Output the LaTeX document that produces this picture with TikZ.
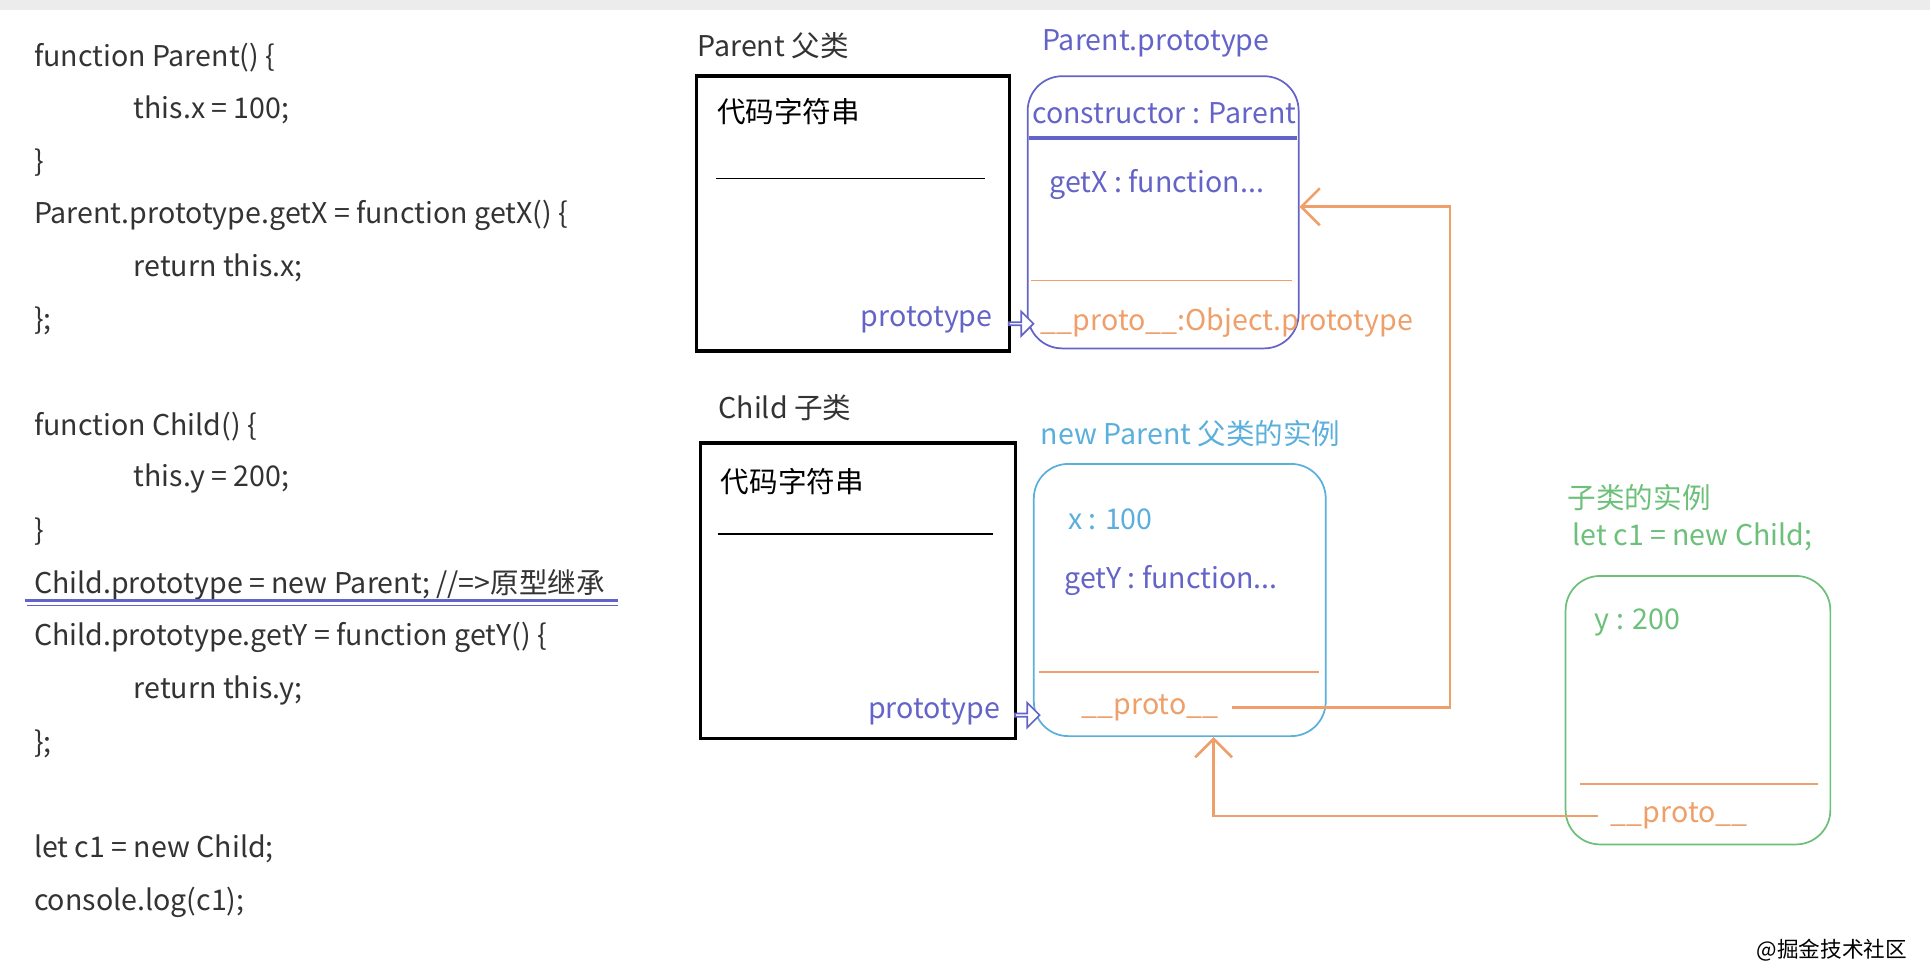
\documentclass[tikz,border=0pt]{standalone}
\usepackage{fontspec}
\setmainfont{Noto Sans CJK SC}
\usetikzlibrary{arrows.meta, positioning, shapes.arrows}
\definecolor{codegray}{HTML}{333333}
\definecolor{protoblue}{HTML}{6464C8}
\definecolor{instcyan}{HTML}{5AAFDC}
\definecolor{linkorange}{HTML}{EE9F6A}
\definecolor{childgreen}{HTML}{6CC07A}
\begin{document}
\begin{tikzpicture}[
            x=0.01cm, y=-0.01cm,
            code/.style={anchor=west, inner sep=0, text=codegray, font=\fontsize{6.6}{8}\selectfont},
            lbl/.style={anchor=west, inner sep=0, font=\fontsize{6.6}{8}\selectfont},
            classbox/.style={rectangle, draw=black, thick, inner sep=0},
            objbox/.style={rectangle, rounded corners=0.28cm, draw, inner sep=0},
            hollow/.style={single arrow, draw=protoblue, fill=white, minimum height=0.2cm, minimum width=0.2cm, single arrow head extend=0.05cm, inner sep=0},
            link/.style={draw=linkorange, semithick, -{Straight Barb[length=0.15cm, width=0.3cm]}}
        ]

        \useasboundingbox (0,0) rectangle (1568,795);
        \fill[gray!15] (0,0) rectangle (1568,8);

        % code on the left
        \node[code] (c1) at (27,47) {function Parent() \{};
        \node[code] (c2) at (108,89) {this.x = 100;};
        \node[code] (c3) at (27,132) {\}};
        \node[code] (c4) at (27,175) {Parent.prototype.getX = function getX() \{};
        \node[code] (c5) at (108,218) {return this.x;};
        \node[code] (c6) at (27,261) {\};};
        \node[code] (c7) at (27,347) {function Child() \{};
        \node[code] (c8) at (108,389) {this.y = 200;};
        \node[code] (c9) at (27,432) {\}};
        \node[code] (c10) at (27,475) {Child.prototype = new Parent; //=>原型继承};
        \node[code] (c11) at (27,518) {Child.prototype.getY = function getY() \{};
        \node[code] (c12) at (108,561) {return this.y;};
        \node[code] (c13) at (27,604) {\};};
        \node[code] (c14) at (27,690) {let c1 = new Child;};
        \node[code] (c15) at (27,733) {console.log(c1);};
        \draw[protoblue, thick] (20,488) -- (502,488);
        \draw[protoblue] (22,492) -- (502,492);

        % Parent
        \node[lbl, text=codegray] (ptitle) at (566,37) {Parent 父类};
        \node[classbox, minimum width=2.54cm, minimum height=2.23cm] (parent) at (693,173.5) {};
        \node[lbl, text=black] (pcode) at (582,91) {代码字符串};
        \draw (582,145) -- (800,145);
        \node[lbl, text=protoblue, anchor=east] (pproto) at (807,260) {prototype};

        % Parent.prototype
        \node[lbl, text=protoblue] (pptitle) at (846,35) {Parent.prototype};
        \node[objbox, draw=protoblue, minimum width=2.2cm, minimum height=2.21cm] (pprot) at (945,172.5) {};
        \node[lbl, text=protoblue] (ctor) at (838,92) {constructor : Parent};
        \draw[protoblue, thick] (836,112) -- (1054,112);
        \node[lbl, text=protoblue] (getx) at (852,150) {getX : function...};
        \draw[linkorange] (838,228) -- (1050,228);
        \node[lbl, text=linkorange] (pproto2) at (845,262) {\_\_proto\_\_:Object.prototype};
        \node[hollow] (parr) at (829,263) {};

        % Child
        \node[lbl, text=codegray] (ctitle) at (583,331) {Child 子类};
        \node[classbox, minimum width=2.56cm, minimum height=2.4cm] (child) at (697,480) {};
        \node[lbl, text=black] (ccode) at (585,391) {代码字符串};
        \draw (583,434) -- (807,434);
        \node[lbl, text=protoblue, anchor=east] (cproto) at (813,578) {prototype};

        % new Parent
        \node[lbl, text=instcyan] (nptitle) at (845,352) {new Parent 父类的实例};
        \node[objbox, draw=instcyan, minimum width=2.37cm, minimum height=2.21cm] (newp) at (958.5,487.5) {};
        \node[lbl, text=instcyan] (xval) at (867,422) {x : 100};
        \node[lbl, text=protoblue] (gety) at (864,472) {getY : function...};
        \draw[linkorange] (844,546) -- (1072,546);
        \node[lbl, text=linkorange] (nproto) at (878,575) {\_\_proto\_\_};
        \node[hollow] (carr) at (834,581) {};

        % instance c1
        \node[lbl, text=childgreen] (ititle) at (1273,404) {子类的实例};
        \node[lbl, text=childgreen] (ilet) at (1277,436) {let c1 = new Child;};
        \node[objbox, draw=childgreen, minimum width=2.15cm, minimum height=2.18cm] (inst) at (1379.5,577) {};
        \node[lbl, text=childgreen] (yval) at (1295,506) {y : 200};
        \draw[linkorange] (1284,637) -- (1477,637);
        \node[lbl, text=linkorange] (iproto) at (1308,663) {\_\_proto\_\_};

        % __proto__ links
        \draw[link] ([xshift=0.1cm]nproto.east) -| (1178,168) -- (pprot.east |- 0,168);
        \draw[link] ([xshift=-0.1cm]iproto.west) -| (newp.south -| 986,0);

        \node[anchor=east, inner sep=0, font=\fontsize{5}{6}\selectfont] (mark) at (1550,772) {@掘金技术社区};
    \end{tikzpicture}
\end{document}
